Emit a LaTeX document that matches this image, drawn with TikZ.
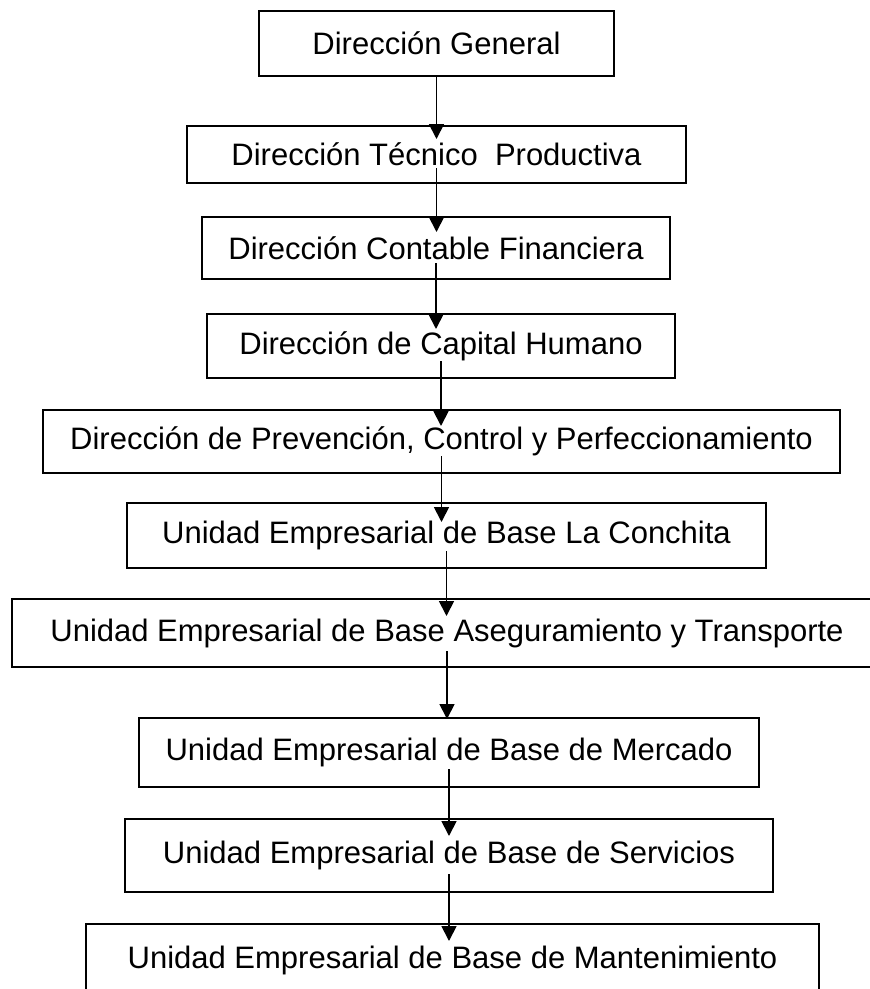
\documentclass[tikz,border=0pt]{standalone}
\usepackage{fontspec}
\setmainfont{Liberation Sans}
\usepackage{tikz}
\usetikzlibrary{arrows.meta}

\begin{document}
\begin{tikzpicture}[x=1pt,y=-1pt]
\tikzstyle{unit}=[draw, line width=2pt, inner sep=0pt, font=\fontsize{31}{37}\selectfont]
\tikzstyle{link}=[line width=1.8pt, -{Triangle[length=15pt,width=15pt]}]

\clip (0,0) rectangle (870,989);

% direcciones
\node[unit, minimum width=355pt, minimum height=65pt] (dg) at (436.5,43.5) {Dirección General};
\node[unit, minimum width=499pt, minimum height=57pt] (dtp) at (436.5,154.5) {Dirección Técnico\ \ Productiva};
\node[unit, minimum width=468pt, minimum height=62pt] (dcf) at (436,248) {Dirección Contable Financiera};
\node[unit, minimum width=468pt, minimum height=64pt] (dch) at (441,346) {Dirección de Capital Humano};
\node[unit, minimum width=797pt, minimum height=63pt] (dpc) at (441.5,441.5) {Dirección de Prevención, Control y Perfeccionamiento};

% unidades empresariales de base
\node[unit, minimum width=639pt, minimum height=65pt] (uebc) at (446.5,535.5) {Unidad Empresarial de Base La Conchita};
\node[unit, minimum width=870pt, minimum height=68pt] (uebat) at (447,633) {Unidad Empresarial de Base Aseguramiento y Transporte};
\node[unit, minimum width=620pt, minimum height=69pt] (uebm) at (449,752.5) {Unidad Empresarial de Base de Mercado};
\node[unit, minimum width=648pt, minimum height=73pt] (uebs) at (449,855.5) {Unidad Empresarial de Base de Servicios};
\node[unit, minimum width=733pt, minimum height=72pt] (uebmt) at (452.5,960) {Unidad Empresarial de Base de Mantenimiento};

% flechas: origen/destino/entrada en origen/entrada en destino
\foreach \a/\b/\s/\e in {dg/dtp/0/14, dtp/dcf/16/16, dcf/dch/17/16, dch/dpc/18/17,
    dpc/uebc/18/20, uebc/uebat/18/18, uebat/uebm/17/2, uebm/uebs/19/18, uebs/uebmt/19/18}
   \draw[link] ([yshift=\s pt]\a.south) -- ([yshift=-\e pt]\a.south |- \b.north);

\end{tikzpicture}
\end{document}
